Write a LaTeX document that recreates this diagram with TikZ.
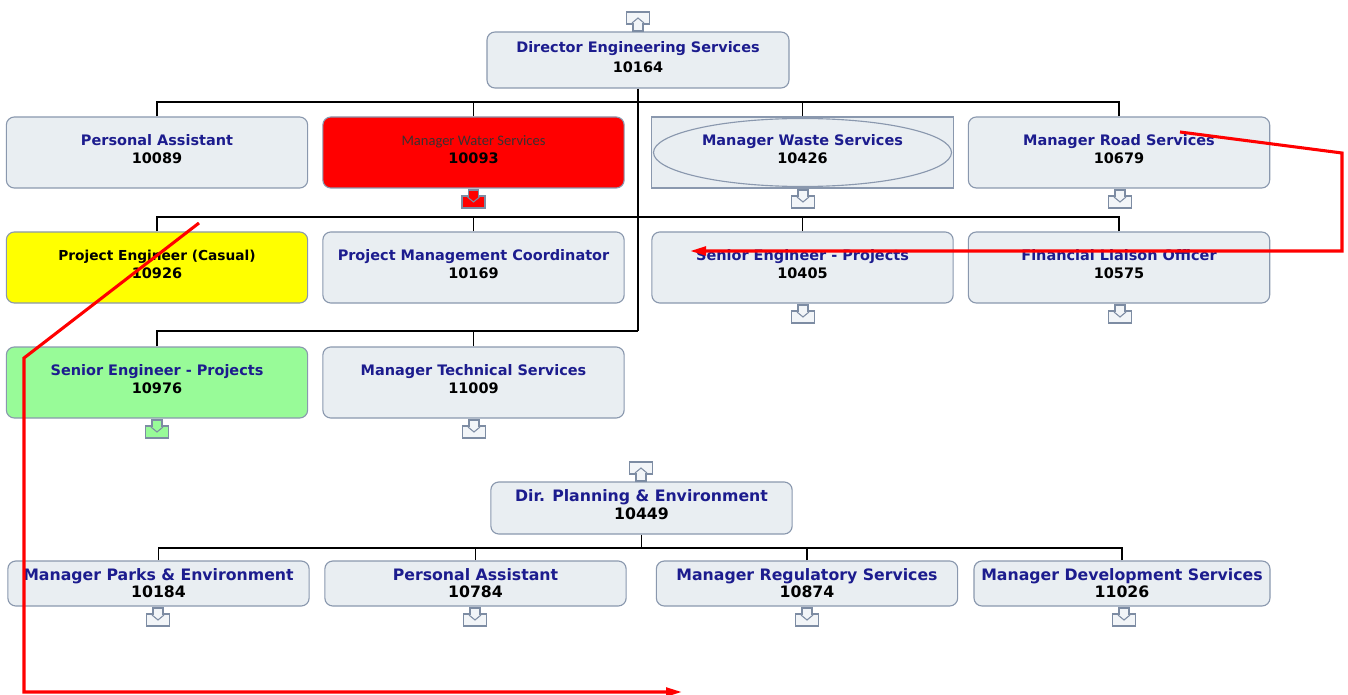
\documentclass[tikz,border=0pt]{standalone}
\usepackage{fontspec}
\setmainfont{DejaVu Sans}
\newfontfamily\calfont{Carlito}
\usetikzlibrary{arrows.meta}

\definecolor{boxfill}{HTML}{E9EEF2}
\definecolor{boxline}{HTML}{8A98AE}
\definecolor{titleblue}{HTML}{1C1C8E}
\definecolor{iconline}{HTML}{7D8CA3}
\definecolor{iconfill}{HTML}{F2F5F8}
\definecolor{paleyellow}{HTML}{FFFF00}
\definecolor{palegreen}{HTML}{98FB98}
\definecolor{waterred}{HTML}{FF0000}

\tikzset{
  orgbox/.style={draw=boxline, fill=boxfill, line width=0.85pt,
    rounded corners=6pt, align=center, inner sep=0pt,
    minimum width=226pt, minimum height=53.25pt, text depth=5pt,
    font=\fontsize{10.85pt}{13.5pt}\selectfont},
  lowbox/.style={orgbox, minimum height=33.75pt, text depth=0pt,
    font=\fontsize{11.8pt}{12.75pt}\selectfont},
  orgline/.style={draw=black, line width=0.85pt},
  redmark/.style={draw=red, line width=2.3pt, line join=miter},
  redtip/.style={-{Triangle[length=12pt,width=6.5pt]}},
  pics/dnicon/.style={code={
    \draw[line width=0.8pt, draw=iconline, fill=#1]
      (-5,0) -- (5,0) -- (5,6) -- (11.5,6) -- (11.5,18) -- (-11.5,18) -- (-11.5,6) -- (-5,6) -- cycle;
    \draw[line width=0.8pt, draw=iconline] (-6,7) -- (0,12) -- (6,7);
  }},
  pics/dnicon/.default=iconfill,
  pics/upicon/.style={code={
    \draw[line width=0.8pt, draw=iconline, fill=#1]
      (-11.5,0) -- (11.5,0) -- (11.5,12) -- (5,12) -- (5,19) -- (-5,19) -- (-5,12) -- (-11.5,12) -- cycle;
    \draw[line width=0.8pt, draw=iconline] (-6,11) -- (0,6) -- (6,11);
  }},
  pics/upicon/.default=iconfill
}
\newcommand{\ttl}[1]{\textcolor{titleblue}{\textbf{#1}}}
\newcommand{\num}[1]{\textbf{#1}}

\begin{document}
\begin{tikzpicture}[x=0.75pt,y=-0.75pt]
\useasboundingbox (0,0) rectangle (1348,695);

% ---------- Engineering Services ----------
\node[orgbox, minimum width=226.5pt, minimum height=42pt,
      font=\fontsize{10.85pt}{15pt}\selectfont] (dir) at (638,60)
  {\ttl{Director Engineering Services}\\\num{10164}};

\node[orgbox] (pa1) at (157,152.5) {\ttl{Personal Assistant}\\\num{10089}};
\node[orgbox, fill=waterred] (water) at (473.5,152.5)
  {{\calfont\fontsize{10.9pt}{12pt}\selectfont\color[HTML]{3A3030}Manager Water Services}\\\num{10093}};
\node[orgbox, rounded corners=0pt] (waste) at (802.5,152.5) {};
\draw[draw=boxline, line width=0.85pt] (waste.center) ellipse [x radius=111.75pt, y radius=25.5pt];
\node[align=center, inner sep=0pt, text depth=5pt, font=\fontsize{10.85pt}{13.5pt}\selectfont] (wastetxt) at (waste.center)
  {\ttl{Manager Waste Services}\\\num{10426}};
\node[orgbox] (road) at (1119,152.5) {\ttl{Manager Road Services}\\\num{10679}};

\node[orgbox, fill=paleyellow] (pec) at (157,267.5)
  {{\fontsize{10.3pt}{13.5pt}\selectfont\num{Project Engineer (Casual)}}\\\num{10926}};
\node[orgbox] (pmc) at (473.5,267.5) {\ttl{Project Management Coordinator}\\\num{10169}};
\node[orgbox] (se1) at (802.5,267.5) {\ttl{Senior Engineer - Projects}\\\num{10405}};
\node[orgbox] (flo) at (1119,267.5) {\ttl{Financial Liaison Officer}\\\num{10575}};

\node[orgbox, fill=palegreen] (se2) at (157,382.5) {\ttl{Senior Engineer - Projects}\\\num{10976}};
\node[orgbox] (mts) at (473.5,382.5) {\ttl{Manager Technical Services}\\\num{11009}};

% reporting lines
\coordinate (bus1) at (638,102);
\coordinate (bus2) at (638,217);
\coordinate (bus3) at (638,331);
\draw[orgline] (dir.south) -- (bus3);
\draw[orgline] (pa1.north) |- (bus1);
\draw[orgline] (road.north) |- (bus1);
\draw[orgline] (water.north) -- (water.north |- bus1);
\draw[orgline] (waste.north) -- (waste.north |- bus1);
\draw[orgline] (pec.north) |- (bus2);
\draw[orgline] (flo.north) |- (bus2);
\draw[orgline] (pmc.north) -- (pmc.north |- bus2);
\draw[orgline] (se1.north) -- (se1.north |- bus2);
\draw[orgline] (se2.north) |- (bus3);
\draw[orgline] (mts.north) -- (mts.north |- bus3);

% expand / collapse markers
\pic at (638,12) {upicon};
\pic at (473.5,190) {dnicon=waterred};
\pic at (803,190) {dnicon};
\pic at (1120,190) {dnicon};
\pic at (803,305) {dnicon};
\pic at (1120,305) {dnicon};
\pic at (157,420) {dnicon=palegreen};
\pic at (474,420) {dnicon};

% ---------- Planning & Environment ----------
\node[orgbox, minimum width=226pt, minimum height=39pt, text depth=4.5pt,
      font=\fontsize{11.8pt}{13.5pt}\selectfont] (dpe) at (641.5,508)
  {\ttl{Dir. Planning \& Environment}\\\num{10449}};
\node[lowbox] (mpe) at (158.5,583.5) {\ttl{Manager Parks \& Environment}\\\num{10184}};
\node[lowbox] (pa2) at (475.5,583.5) {\ttl{Personal Assistant}\\\num{10784}};
\node[lowbox] (mrs) at (807,583.5) {\ttl{Manager Regulatory Services}\\\num{10874}};
\node[lowbox, minimum width=222pt] (mds) at (1122,583.5) {\ttl{Manager Development Services}\\\num{11026}};

\coordinate (bus4) at (641.5,548);
\draw[orgline] (dpe.south) -- (bus4);
\draw[orgline] (mpe.north) |- (bus4);
\draw[orgline] (mds.north) |- (bus4);
\draw[orgline] (pa2.north) -- (pa2.north |- bus4);
\draw[orgline] (mrs.north) -- (mrs.north |- bus4);

\pic at (641,462) {upicon};
\pic at (158,608) {dnicon};
\pic at (475,608) {dnicon};
\pic at (807,608) {dnicon};
\pic at (1124,608) {dnicon};

% ---------- red annotations ----------
\coordinate (ra) at (1180,132);
\coordinate (rb) at (1342,153);
\coordinate (rc) at (1342,251);
\coordinate (rd) at (690,251);
\draw[redmark, redtip] (ra) -- (rb) -- (rc) -- (rd);

\coordinate (sa) at (199,223);
\coordinate (sb) at (24,358);
\coordinate (sc) at (24,692);
\coordinate (sd) at (682,692);
\draw[redmark, redtip] (sa) -- (sb) -- (sc) -- (sd);
\end{tikzpicture}
\end{document}
